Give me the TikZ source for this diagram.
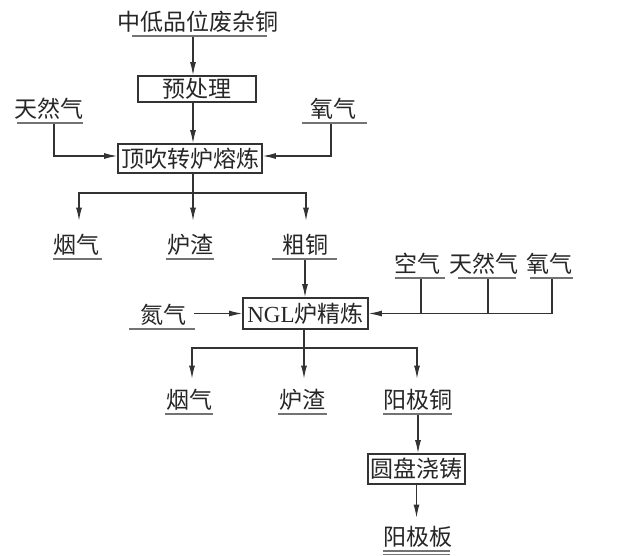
\documentclass[tikz,border=0pt]{standalone}
\usepackage{fontspec}
\setmainfont{Liberation Serif}
\newfontfamily\cjk{Noto Sans CJK SC}
\usetikzlibrary{arrows.meta}
\begin{document}
\begin{tikzpicture}[x=1pt,y=-1pt,
  lbl/.style={font=\cjk\fontsize{23}{25}\selectfont, text=black!85, inner xsep=0pt, inner ysep=2pt, text height=17pt, text depth=4pt, anchor=south},
  procbox/.style={draw=black!80, line width=1.7pt, font=\cjk\fontsize{23}{25}\selectfont, text=black!85, inner sep=0pt},
  ulline/.style={draw=black!55, line width=1.4pt},
  conn/.style={draw=black!80, line width=1.1pt},
  arr/.style={conn, -{Latex[length=13pt,width=6pt]}}]
\useasboundingbox (0,0) rectangle (621,555);
\coordinate (ax) at (193,0);
\coordinate (s1) at (193,193);
\coordinate (s2) at (304,348);

% nodes
\node[lbl] (src) at (198,37) {中低品位废杂铜};
\node[procbox, minimum width=118pt, minimum height=26pt] (pre) at (197,89) {预处理};
\node[procbox, minimum width=144pt, minimum height=29pt] (top) at (190,158.5) {顶吹转炉熔炼};
\node[lbl] (g1) at (48.5,124) {天然气};
\node[lbl] (o1) at (333.5,124) {氧气};
\node[lbl] (y1) at (76,260) {烟气};
\node[lbl] (z1) at (190,260) {炉渣};
\node[lbl] (c) at (305,260) {粗铜};
\node[procbox, minimum width=125pt, minimum height=31pt] (ngl) at (305.5,313.5) {{\rmfamily NGL}炉精炼};
\node[lbl] (n) at (163,330) {氮气};
\node[lbl] (air) at (417.5,279) {空气};
\node[lbl] (g2) at (484,279) {天然气};
\node[lbl] (o2) at (549.5,279) {氧气};
\node[lbl] (y2) at (189.5,415) {烟气};
\node[lbl] (z2) at (302,415) {炉渣};
\node[lbl] (a) at (418,415) {阳极铜};
\node[procbox, minimum width=97pt, minimum height=30pt] (disc) at (416.5,469) {圆盘浇铸};
\node[lbl] (p) at (417.5,552) {阳极板};
\coordinate (pend) at ([yshift=9pt]p.north);

% underlines
\draw[ulline] (132,36) -- (267,36);
\draw[ulline] (17,123) -- (83,123);
\draw[ulline] (302,123) -- (367,123);
\draw[ulline] (53,259) -- (102,259);
\draw[ulline] (166,259) -- (214,259);
\draw[ulline] (272,259) -- (337,259);
\draw[ulline] (129,329) -- (195,329);
\draw[ulline] (395,278) -- (445,278);
\draw[ulline] (458,278) -- (516,278);
\draw[ulline] (530,278) -- (573,278);
\draw[ulline] (165,414) -- (213,414);
\draw[ulline] (278,414) -- (327,414);
\draw[ulline] (383,414) -- (452,414);
\draw[ulline] (383,551) -- (450,551);
\draw[ulline] (383,554.5) -- (450,554.5);

% connectors
\draw[arr] (src.south -| ax) -- (pre.north -| ax);
\draw[arr] (pre.south -| ax) -- (top.north -| ax);
\draw[arr] ([xshift=5.5pt]g1.south) |- ([yshift=2.5pt]top.west);
\draw[arr] ([xshift=-2.5pt]o1.south) |- ([yshift=2.5pt]top.east);
\draw[conn] (top.south -| s1) -- (s1);
\draw[arr] (s1) -| ([xshift=3pt,yshift=14pt]y1.north);
\draw[arr] (s1) -- ([xshift=3pt,yshift=14pt]z1.north);
\draw[arr] (s1) -| ([xshift=1pt,yshift=14pt]c.north);
\draw[arr] (c.south) -- (c.south |- ngl.north);
\draw[arr] ([xshift=31pt]n.south |- ngl.west) -- (ngl.west);
\draw[arr] ([xshift=2.5pt]o2.south) |- (ngl.east);
\draw[conn] ([xshift=3.5pt]air.south) -- ([xshift=3.5pt]air.south |- ngl.east);
\draw[conn] ([xshift=4pt]g2.south) -- ([xshift=4pt]g2.south |- ngl.east);
\draw[conn] (ngl.south -| s2) -- (s2);
\draw[arr] (s2) -| ([xshift=2.5pt,yshift=11pt]y2.north);
\draw[arr] (s2) -- ([xshift=2pt,yshift=11pt]z2.north);
\draw[arr] (s2) -| ([xshift=-1pt,yshift=11pt]a.north);
\draw[arr] (a.south) -- (a.south |- disc.north);
\draw[arr] (disc.south) -- (disc.south |- pend);
\end{tikzpicture}
\end{document}
